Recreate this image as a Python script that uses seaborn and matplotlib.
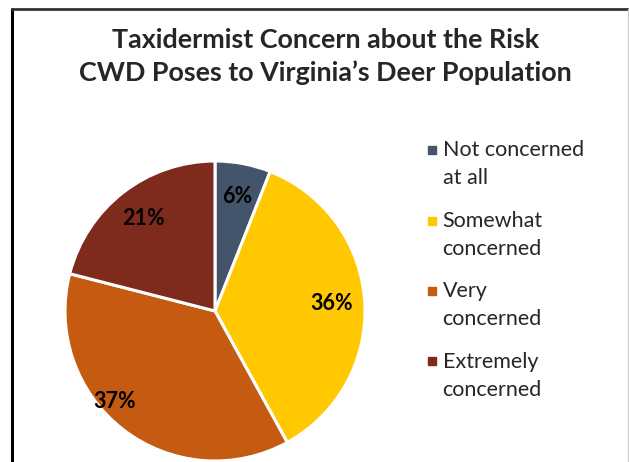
import matplotlib
matplotlib.use("Agg")
import numpy as np
import matplotlib.pyplot as plt
from matplotlib.lines import Line2D
from matplotlib.legend_handler import HandlerLine2D
import seaborn as sns

# data
categories = ["Not concerned\nat all", "Somewhat\nconcerned", "Very\nconcerned", "Extremely\nconcerned"]
shares = [6, 36, 37, 21]
colors = ["#44546A", "#FFC800", "#C55A11", "#7E2A1D"]
title = "Taxidermist Concern about the Risk\nCWD Poses to Virginia\u2019s Deer Population"

sns.set_theme(style="white")
plt.rcParams["font.family"] = ["Lato", "DejaVu Sans"]
palette = sns.color_palette(colors)

fig = plt.figure(figsize=(6.29, 4.62), dpi=100)
ax = fig.add_axes([65 / 629, 1 / 462, 300 / 629, 300 / 462])

wedges, texts, autotexts = ax.pie(
    shares, colors=palette, startangle=90, counterclock=False,
    autopct="%d%%", pctdistance=0.78,
    wedgeprops=dict(edgecolor="white", linewidth=2.2),
    textprops=dict(fontsize=15.5, fontweight="bold", color="black"),
)
ax.set_xlim(-1, 1)
ax.set_ylim(-1, 1)
for w in wedges:
    w.set_clip_on(False)

# Excel's "best fit" pushes the 37% label out toward the rim
w = wedges[2]
ang = np.deg2rad((w.theta1 + w.theta2) / 2 - 10)
autotexts[2].set_position((0.9 * np.cos(ang), 0.9 * np.sin(ang)))

fig.text(0.517, 0.877, title, ha="center", va="center", fontsize=19.4,
         fontweight="bold", linespacing=1.4)


class TopHandler(HandlerLine2D):
    # put the square next to the first line of a two-line label
    def create_artists(self, legend, orig_handle, xdescent, ydescent,
                       width, height, fontsize, trans):
        artists = super().create_artists(legend, orig_handle, xdescent, ydescent,
                                         width, height, fontsize, trans)
        for a in artists:
            a.set_ydata([y + 0.68 * fontsize for y in a.get_ydata()])
        return artists


handles = [Line2D([], [], marker="s", linestyle="none", markersize=5.8,
                  markerfacecolor=c, markeredgecolor=c) for c in palette]
leg = fig.legend(handles, categories, loc="upper left",
                 bbox_to_anchor=(407 / 629, 1 - 121 / 462), frameon=False,
                 fontsize=15.5, handlelength=0.5, handletextpad=0.25,
                 labelspacing=1.05,
                 handler_map={Line2D: TopHandler()})
for t in leg.get_texts():
    t.set_linespacing(1.49)

# chart border
fig.add_artist(Line2D([12 / 629, 12 / 629], [0, 1 - 9 / 462], color="black", lw=2.2))
fig.add_artist(Line2D([12 / 629, 628 / 629], [1 - 9 / 462, 1 - 9 / 462], color="#333333", lw=2))
fig.add_artist(Line2D([628 / 629, 628 / 629], [0, 1 - 9 / 462], color="#cccccc", lw=1))

fig.savefig("out.png", dpi=100)
